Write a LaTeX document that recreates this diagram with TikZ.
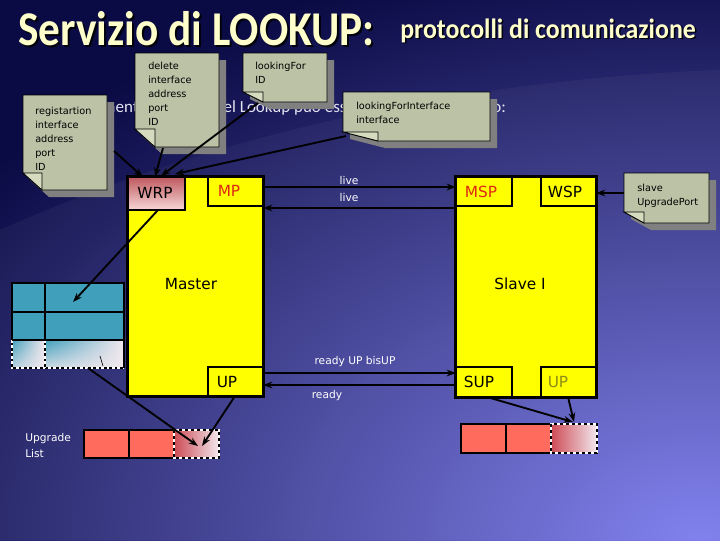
\documentclass[tikz,border=0pt]{standalone}
\usepackage{fontspec}
\setmainfont{Carlito}
\newfontfamily\dv{DejaVu Sans}
\usetikzlibrary{arrows.meta,fit,shadings}
\definecolor{bgdark}{RGB}{10,10,68}
\definecolor{bglight}{RGB}{125,125,238}
\definecolor{titlec}{RGB}{255,255,204}
\definecolor{bodyc}{RGB}{228,228,242}
\definecolor{notec}{RGB}{188,194,166}
\definecolor{foldc}{RGB}{214,218,190}
\definecolor{shadc}{RGB}{128,128,128}
\definecolor{boxy}{RGB}{255,255,0}
\definecolor{mpred}{RGB}{220,40,20}
\definecolor{oliv}{RGB}{140,140,20}
\definecolor{tealc}{RGB}{64,160,188}
\definecolor{salm}{RGB}{255,108,94}
\definecolor{wrptop}{RGB}{190,90,95}
\definecolor{wrpbot}{RGB}{248,215,215}
\definecolor{fadew}{RGB}{242,232,238}
\definecolor{fader}{RGB}{205,75,85}
\newcommand{\notebox}[7]{%
  \fill[shadc] (#2+7,#3+7) -- (#4+7,#3+7) -- (#4+7,#5+7) -- (#2+#6+7,#5+7) -- (#2+7,#5-#7+7) -- cycle;
  \filldraw[fill=notec, draw=black, line width=0.6pt] (#2,#3) -- (#4,#3) -- (#4,#5) -- (#2+#6,#5) -- (#2,#5-#7) -- cycle;
  \filldraw[fill=foldc, draw=black, line width=0.6pt] (#2,#5-#7) -- (#2+#6,#5-#7) -- (#2+#6,#5) -- cycle;
  \node[fit={(#2,#3) (#4,#5)}, inner sep=0pt] (#1) {};
}
\tikzset{
  box/.style={draw=black, line width=1.5pt, fill=boxy, inner sep=0pt},
  cell/.style={draw=black, line width=1pt, inner sep=0pt},
  arr/.style={-{Stealth[length=7pt,width=5pt]}, line width=1.4pt, black},
  lbl/.style={font=\dv\fontsize{11.5}{13}\selectfont, inner sep=0pt},
  elab/.style={font=\dv\fontsize{8}{9.6}\selectfont, text=white, inner sep=0pt},
  notetxt/.style={font=\dv\fontsize{7.3}{10.5}\selectfont, align=left, anchor=north west, inner sep=0pt},
  ttl/.style={anchor=base west, font=\bfseries\fontsize{32.5}{40}\selectfont, inner sep=0pt, yscale=1.12},
  subttl/.style={anchor=base west, font=\bfseries\fontsize{19.4}{24}\selectfont, inner sep=0pt, yscale=1.08},
}
\begin{document}
\begin{tikzpicture}[x=0.75pt,y=-0.75pt]
\useasboundingbox (0,0) rectangle (720,540);
% background
\fill[bgdark] (0,0) rectangle (720,540);
\begin{scope}
  \clip (0,0) rectangle (720,540);
  \shade[inner color=bglight, outer color=bgdark] (700,540) ellipse (900 and 600);
  \fill[white, opacity=0.04] (0,230) .. controls (200,140) and (450,80) .. (720,70) -- (720,540) -- (0,540) -- cycle;
\end{scope}
% title
\node[ttl, text=black!85!bgdark] (titlesh) at (20,47) {Servizio di LOOKUP:};
\node[ttl, text=titlec] (title) at (18,45) {Servizio di LOOKUP:};
\node[subttl, text=black!85!bgdark] (subsh) at (401.5,39.5) {protocolli di comunicazione};
\node[subttl, text=titlec] (sub) at (400,38) {protocolli di comunicazione};
% body text
\node[anchor=base west, font=\fontsize{12.75}{15}\selectfont, text=bodyc, inner sep=0pt] (body) at (30,112) {Il funzionamento generale del Lookup può essere così schematizzato:};

% Master
\node[box, fit={(128,177) (263,396)}] (master) {};
\shade[top color=wrptop, bottom color=wrpbot] (128,177) rectangle (185,210);
\node[cell, fit={(128,177) (185,210)}] (wrp) {};
\node[cell, fill=boxy, fit={(208,177) (263,206)}] (mp) {};
\node[cell, fill=boxy, fit={(208,367) (263,396)}] (up) {};
\draw[line width=1.5pt] (master.north west) rectangle (master.south east);
\node[lbl] (wrpt) at (155,193) {WRP};
\node[lbl, text=mpred] (mpt) at (229,191) {MP};
\node[lbl] (mastert) at (191,284) {Master};
\node[lbl] (upt) at (227,382) {UP};

% Slave
\node[box, fit={(456,177) (596,397)}] (slave) {};
\node[cell, fill=boxy, fit={(456,177) (512,206)}] (msp) {};
\node[cell, fill=boxy, fit={(541,177) (596,206)}] (wsp) {};
\node[cell, fill=boxy, fit={(456,367) (512,397)}] (sup) {};
\node[cell, fill=boxy, fit={(541,367) (596,397)}] (sup2) {};
\draw[line width=1.5pt] (slave.north west) rectangle (slave.south east);
\node[lbl, text=mpred] (mspt) at (481,192) {MSP};
\node[lbl] (wspt) at (565,192) {WSP};
\node[lbl] (slavet) at (520,284) {Slave I};
\node[lbl] (supt) at (479,382) {SUP};
\node[lbl, text=oliv] (sup2t) at (558,382) {UP};

% table
\fill[tealc] (12,283) rectangle (124,340);
\shade[upper left=tealc, upper right=fadew, lower left=fadew!70!tealc, lower right=fadew] (12,340) rectangle (45,368);
\shade[upper left=tealc, upper right=fadew, lower left=fadew!80!tealc, lower right=fadew] (45,340) rectangle (124,368);
\draw[line width=1.2pt] (12,340) -- (12,368) -- (124,368) (45,340) -- (45,368);
\draw[white, line width=1pt, dash pattern=on 2pt off 2pt] (12,340) -- (12,368) -- (124,368) (45,340) -- (45,368);
\draw[line width=1.5pt] (12,340) -- (12,283) -- (124,283) -- (124,368) (12,312) -- (124,312) (12,340) -- (124,340) (45,283) -- (45,340);
\node[fit={(12,283) (124,368)}, inner sep=0pt] (tbl) {};
\draw[line width=0.5pt] (100,356) -- (103,366);

% upgrade lists
\node[cell, fill=salm, line width=1.3pt, fit={(84,430) (129,458)}] (ul1) {};
\node[cell, fill=salm, line width=1.3pt, fit={(129,430) (174,458)}] (ul2) {};
\shade[left color=fader, right color=fadew] (174,430) rectangle (219,458);
\draw[white, line width=1.2pt] (174,430) rectangle (219,458);
\draw[black, line width=1.2pt, dash pattern=on 2.5pt off 2pt] (174,430) rectangle (219,458);
\node[fit={(174,430) (219,458)}, inner sep=0pt] (ul3) {};
\node[anchor=base west, font=\dv\fontsize{8}{12}\selectfont, text=white, align=left, inner sep=0pt] (ullbl) at (25,457) {Upgrade\\List};

\node[cell, fill=salm, line width=1.3pt, fit={(461,424) (506,453)}] (sl1) {};
\node[cell, fill=salm, line width=1.3pt, fit={(506,424) (551,453)}] (sl2) {};
\shade[left color=fader, right color=fadew] (551,424) rectangle (597,453);
\draw[white, line width=1.2pt] (551,424) rectangle (597,453);
\draw[black, line width=1.2pt, dash pattern=on 2.5pt off 2pt] (551,424) rectangle (597,453);
\node[fit={(551,424) (597,453)}, inner sep=0pt] (sl3) {};

% notes
\notebox{regn}{23}{95}{107}{190}{19}{17}
\node[notetxt] (regt) at (35,107.3) {registartion\\interface\\address\\port\\ID};
\notebox{deln}{135}{53}{219}{147}{20}{18}
\node[notetxt] (delt) at (148,62.3) {delete\\interface\\address\\port\\ID};
\notebox{lfn}{243}{53}{327}{102}{20}{10}
\node[notetxt] (lft) at (255,62.3) {lookingFor\\ID};
\notebox{lfin}{343}{92}{490}{141}{35}{9}
\node[notetxt] (lfit) at (356,102.3) {lookingForInterface\\interface};
\notebox{sln}{624}{173}{709}{223}{20}{11}
\node[notetxt] (slt) at (637,184.3) {slave\\UpgradePort};

% connector end points
\coordinate (regOut) at (114,151);
\coordinate (wrpIn1) at (143,177);
\coordinate (delOut) at (163,148);
\coordinate (wrpIn2) at (155,177);
\coordinate (lfOut) at (258,103);
\coordinate (wrpIn3) at (161,176);
\coordinate (lfiOut) at (346,136);
\coordinate (wrpIn4) at (175,174);
\coordinate (wrpOut) at (158,210);
\coordinate (tblIn) at (73,302);
\coordinate (mpR1) at (263,187);
\coordinate (mspL1) at (456,187);
\coordinate (mpR2) at (263,208);
\coordinate (mspL2) at (456,208);
\coordinate (upR1) at (263,373);
\coordinate (supL1) at (456,373);
\coordinate (upR2) at (263,385);
\coordinate (supL2) at (456,385);
\coordinate (slOut) at (624,193);
\coordinate (wspIn) at (596,193);
\coordinate (tblOut) at (88,368);
\coordinate (ulIn1) at (198,446);
\coordinate (upOut) at (235,396);
\coordinate (ulIn2) at (202,446);
\coordinate (supOut) at (487,397);
\coordinate (slIn1) at (573,422);
\coordinate (sup2Out) at (568,397);
\coordinate (slIn2) at (574,422);

% connectors
\draw[arr] (regOut) -- (wrpIn1);
\draw[arr] (delOut) -- (wrpIn2);
\draw[arr] (lfOut) -- (wrpIn3);
\draw[arr] (lfiOut) -- (wrpIn4);
\draw[arr] (wrpOut) -- (tblIn);
\draw[arr] (mpR1) -- (mspL1);
\draw[arr] (mspL2) -- (mpR2);
\draw[arr] (upR1) -- (supL1);
\draw[arr] (supL2) -- (upR2);
\draw[arr] (slOut) -- (wspIn);
\draw[arr] (tblOut) -- (ulIn1);
\draw[arr] (upOut) -- (ulIn2);
\draw[arr] (supOut) -- (slIn1);
\draw[arr] (sup2Out) -- (slIn2);

% edge labels
\node[elab] (live1) at (349,181) {live};
\node[elab] (live2) at (349,198) {live};
\node[elab] (rdy1) at (355,362) {ready UP bisUP};
\node[elab] (rdy2) at (327,396) {ready};
\end{tikzpicture}
\end{document}
